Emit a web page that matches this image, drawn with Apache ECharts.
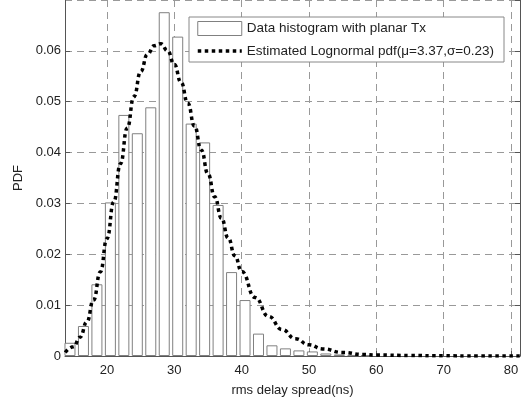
<!DOCTYPE html>
<html>
<head>
<meta charset="utf-8">
<script src="https://cdn.jsdelivr.net/npm/echarts@6/dist/echarts.min.js"></script>
<style>
  html, body { margin: 0; padding: 0; background: #fff; }
  #chart { width: 523px; height: 405px; }
</style>
</head>
<body>
<div id="chart"></div>
<script>
// histogram bins (centres, ns) and heights
const binCenters = [14.5, 16.5, 18.5, 20.5, 22.5, 24.5, 26.5, 28.5, 30.5, 32.5, 34.5, 36.5, 38.5, 40.5, 42.5, 44.5, 46.5, 48.5, 50.5, 52.5, 54.5, 56.5, 58.5];
const binHeights = [0.0026, 0.0059, 0.0141, 0.0302, 0.0474, 0.0438, 0.0489, 0.0676, 0.0628, 0.0457, 0.0420, 0.0297, 0.0165, 0.0110, 0.0044, 0.0021, 0.0015, 0.0011, 0.0009, 0.0005, 0.0003, 0.0002, 0.0001];

// estimated lognormal pdf
const pdfX = [13.8, 15, 16, 17, 18, 19, 20, 21, 22, 23, 24, 25, 26, 27, 28, 29, 30, 31, 32, 33, 34, 35, 36, 37, 38, 39, 40, 42, 44, 46, 48, 50, 52, 55, 58, 60, 65, 70, 75, 81.3];
const pdfY = [0.0007, 0.0018, 0.0037, 0.0067, 0.0110, 0.0165, 0.0231, 0.0303, 0.0378, 0.0448, 0.0510, 0.0559, 0.0593, 0.0610, 0.0614, 0.0600, 0.0573, 0.0538, 0.0497, 0.0452, 0.0405, 0.0358, 0.0313, 0.0271, 0.0232, 0.0197, 0.0166, 0.0115, 0.0078, 0.0052, 0.0034, 0.0022, 0.0014, 0.0007, 0.0003, 0.0002, 0.0001, 0.00003, 0.00001, 0];

const histName = 'Data histogram with planar Tx';
const pdfName = 'Estimated Lognormal pdf(\u03bc=3.37,\u03c3=0.23)';
const font = 'Liberation Sans, Arial, sans-serif';

var myChart = echarts.init(document.getElementById('chart'));

myChart.setOption({
  backgroundColor: '#fff',
  animation: false,
  textStyle: { fontFamily: font },
  grid: { left: 65, right: 3, top: -13, bottom: 49 },
  legend: {
    orient: 'vertical',
    left: 189,
    top: 17,
    backgroundColor: '#fff',
    borderColor: '#888',
    borderWidth: 1,
    padding: [4, 10, 4, 7],
    itemGap: 8,
    itemWidth: 44,
    itemHeight: 14,
    textStyle: { fontFamily: font, fontSize: 13.5, color: '#222' },
    data: [
      { name: histName, icon: 'rect', itemStyle: { color: '#fff', borderColor: '#808080', borderWidth: 1 } },
      {
        name: pdfName,
        itemStyle: { color: 'transparent', borderWidth: 0 },
        lineStyle: { color: '#000', width: 3.5, type: [3.5, 3.5] }
      }
    ]
  },
  xAxis: {
    type: 'value',
    min: 13.76,
    max: 81.34,
    splitNumber: 6,
    name: 'rms delay spread(ns)',
    nameLocation: 'middle',
    nameGap: 28,
    nameTextStyle: { fontFamily: font, fontSize: 13, color: '#222' },
    axisLine: { lineStyle: { color: '#555', width: 1 } },
    axisTick: { inside: true, length: 5, lineStyle: { color: '#555' } },
    axisLabel: {
      showMinLabel: false, showMaxLabel: false,
      fontFamily: font, fontSize: 13, color: '#222', margin: 8
    },
    splitLine: { show: true, lineStyle: { color: '#999', type: [7, 5], width: 1 } }
  },
  yAxis: [{
    type: 'value',
    min: 0,
    max: 0.07,
    interval: 0.01,
    name: 'PDF',
    nameLocation: 'middle',
    nameGap: 36,
    nameTextStyle: { fontFamily: font, fontSize: 13, color: '#222' },
    axisLine: { show: true, lineStyle: { color: '#555', width: 1 } },
    axisTick: { show: true, inside: true, length: 5, lineStyle: { color: '#555' } },
    axisLabel: {
      showMaxLabel: false,
      fontFamily: font, fontSize: 13, color: '#222', margin: 4,
      formatter: v => (v === 0 ? '0' : v.toFixed(2))
    },
    splitLine: { show: true, lineStyle: { color: '#999', type: [7, 5], width: 1 } }
  }, {
    type: 'value',
    position: 'right',
    min: 0,
    max: 0.07,
    interval: 0.01,
    axisLine: { show: true, lineStyle: { color: '#555', width: 1 } },
    axisTick: { show: true, inside: true, length: 5, lineStyle: { color: '#555' } },
    axisLabel: { show: false },
    splitLine: { show: false }
  }],
  series: [
    {
      name: histName,
      type: 'bar',
      barWidth: 11,
      itemStyle: { color: '#fff', borderColor: '#808080', borderWidth: 1 },
      data: binCenters.map((x, i) => [x, binHeights[i]])
    },
    {
      name: pdfName,
      type: 'line',
      smooth: true,
      smoothMonotone: 'x',
      showSymbol: false,
      symbol: 'none',
      lineStyle: { color: '#000', width: 3.5, type: [3.5, 3.5] },
      itemStyle: { color: '#000' },
      z: 5,
      data: pdfX.map((x, i) => [x, pdfY[i]])
    }
  ]
});
</script>
</body>
</html>
